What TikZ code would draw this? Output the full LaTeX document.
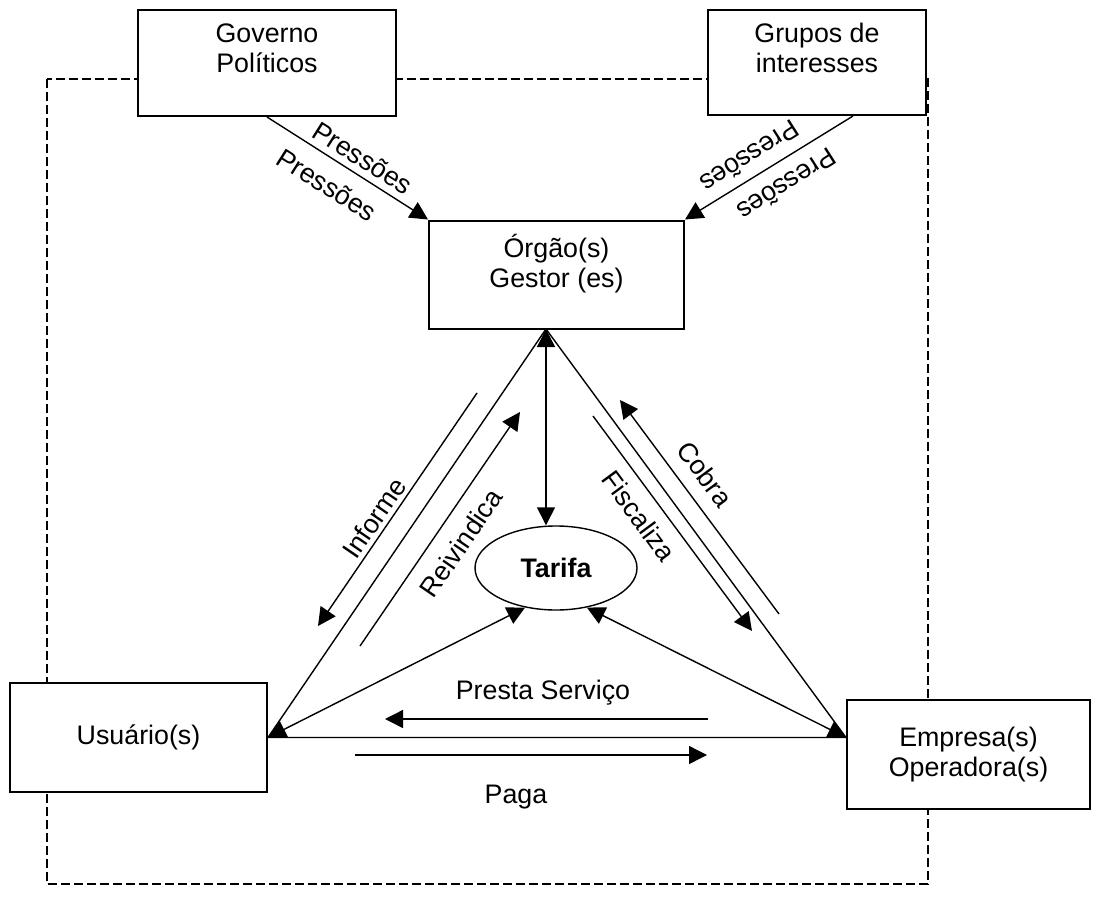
\documentclass[tikz,border=0pt]{standalone}
\usepackage{fontspec}
\setmainfont{Liberation Sans}
\usetikzlibrary{arrows.meta,calc,positioning,shapes.geometric}

\newcommand\diafont{\fontsize{13.4}{15}\selectfont}

\begin{document}
\begin{tikzpicture}[x=0.5pt,y=-0.5pt,font=\diafont,
  box/.style={draw,fill=white,line width=1pt},
  lbl/.style={inner sep=0pt,align=center},
  arr/.style={-{Triangle[length=9pt,width=9pt]},line width=0.7pt},
  darr/.style={{Triangle[length=9pt,width=9pt]}-{Triangle[length=9pt,width=9pt]},line width=0.7pt},
  side/.style={line width=0.7pt}]
  \useasboundingbox (0,0) rectangle (1098,915);
  \draw[dashed,dash pattern=on 4.5pt off 2pt,line width=1pt] (47,79) rectangle (928,884);

  \node[box,minimum width=129pt,minimum height=53pt] (gov) at (267,63) {};
  \node[box,minimum width=109pt,minimum height=52.5pt] (grupos) at (817,62.5) {};
  \node[box,minimum width=127.5pt,minimum height=54pt] (orgao) at (556.5,274.5) {};
  \node[box,minimum width=128.5pt,minimum height=54.5pt] (usu) at (138.5,737.5) {Usuário(s)};
  \node[box,minimum width=121.5pt,minimum height=54.5pt,align=center] (emp) at (968.5,754.5) {Empresa(s)\\Operadora(s)};
  \node[lbl,below=7pt of gov.north] (govt) {Governo\\Políticos};
  \node[lbl,below=7pt of grupos.north] (grupost) {Grupos de\\interesses};
  \node[lbl,below=7pt of orgao.north] (orgaot) {Órgão(s)\\Gestor (es)};
  \node[draw,ellipse,line width=0.7pt,minimum width=81pt,minimum height=42pt,
    font=\diafont\bfseries] (tarifa) at (556,568) {Tarifa};

  \coordinate (apex) at (546,329);
  \coordinate (cl) at (usu.east);
  \coordinate (cr) at (emp.west |- cl);
  \coordinate (gs) at ($(grupos.south)+(36,0)$);

  \draw[side] (cl) -- (apex) -- (cr) -- cycle;
  \draw[darr] (apex) -- (apex |- tarifa.north);
  \draw[darr] (cl) -- (tarifa.232);
  \draw[darr] (cr) -- (tarifa.308);

  \draw[arr] (gov.south) -- (orgao.north west);
  \draw[arr] (gs) -- (orgao.north east);
  \node[lbl,rotate=-32.4] (pr1) at (363,158) {Pressões};
  \node[lbl,rotate=-32.4] (pr2) at (327,185) {Pressões};
  \node[lbl,rotate=212.6] (pr3) at (750,157) {Pressões};
  \node[lbl,rotate=212.6] (pr4) at (787,185) {Pressões};

  \coordinate (inf1) at (477,393);
  \coordinate (inf2) at (318,626);
  \coordinate (rei1) at (360,646);
  \coordinate (rei2) at (520,412);
  \coordinate (cob1) at (779,614);
  \coordinate (cob2) at (620,400);
  \coordinate (fis1) at (593,416);
  \coordinate (fis2) at (752,631);
  \draw[arr] (inf1) -- (inf2);
  \draw[arr] (rei1) -- (rei2);
  \draw[arr] (cob1) -- (cob2);
  \draw[arr] (fis1) -- (fis2);
  \node[lbl,rotate=55.6] (inf) at (374,518) {Informe};
  \node[lbl,rotate=55.6] (rei) at (461,543) {Reivindica};
  \node[lbl,rotate=-53.6] (cob) at (705,474) {Cobra};
  \node[lbl,rotate=-53.6] (fis) at (639,516) {Fiscaliza};

  \coordinate (ps1) at (708,719);
  \coordinate (ps2) at (385,719);
  \coordinate (pg1) at (355,755);
  \coordinate (pg2) at (707,755);
  \draw[arr] (ps1) -- (ps2);
  \draw[arr] (pg1) -- (pg2);
  \node[lbl] (ps) at (543,693) {Presta Serviço};
  \node[lbl] (pg) at (516,797) {Paga};
\end{tikzpicture}
\end{document}
